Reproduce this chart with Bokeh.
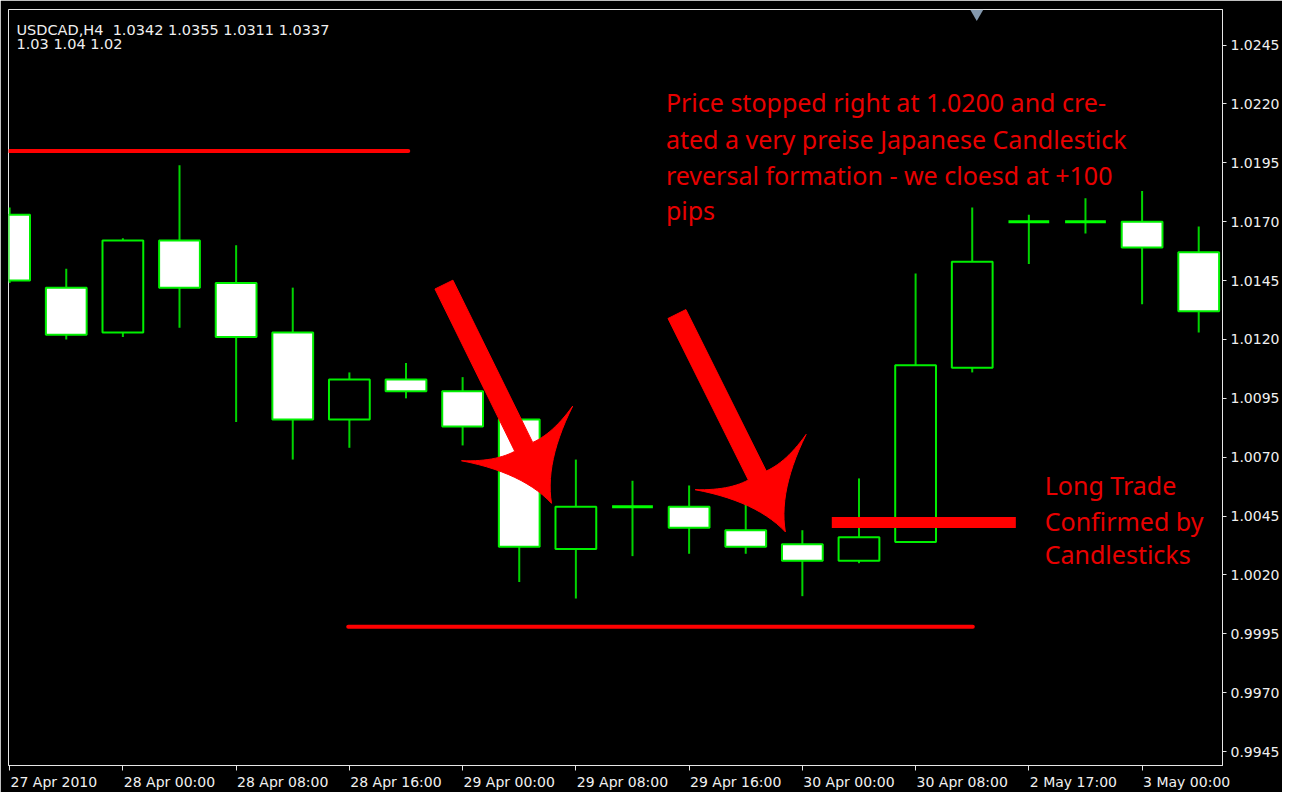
import math
from bokeh.plotting import figure
from bokeh.models import Range1d, LinearAxis, FixedTicker, Label
from bokeh.embed import file_html
from bokeh.resources import INLINE

# ---------------- data ----------------
bars = list(range(22))
opens  = [1.0173, 1.0142, 1.0123, 1.0162, 1.0144, 1.0123, 1.0086, 1.0103, 1.0098, 1.0086, 1.0031,
          1.0049, 1.0049, 1.0039, 1.0033, 1.0026, 1.0034, 1.0108, 1.0170, 1.0170, 1.0170, 1.0157]
highs  = [1.0176, 1.0150, 1.0163, 1.0194, 1.0160, 1.0142, 1.0106, 1.0110, 1.0104, 1.0086, 1.0069,
          1.0060, 1.0058, 1.0055, 1.0039, 1.0061, 1.0148, 1.0176, 1.0173, 1.0180, 1.0183, 1.0168]
lows   = [1.0144, 1.0120, 1.0121, 1.0125, 1.0085, 1.0069, 1.0074, 1.0095, 1.0075, 1.0017, 1.0010,
          1.0028, 1.0029, 1.0029, 1.0011, 1.0025, 1.0034, 1.0106, 1.0152, 1.0165, 1.0135, 1.0123]
closes = [1.0145, 1.0122, 1.0162, 1.0142, 1.0121, 1.0086, 1.0103, 1.0098, 1.0083, 1.0032, 1.0049,
          1.0049, 1.0040, 1.0032, 1.0026, 1.0036, 1.0109, 1.0153, 1.0170, 1.0170, 1.0159, 1.0132]

time_tick_bars = [0, 2, 4, 6, 8, 10, 12, 14, 16, 18, 20]
time_tick_labels = ["27 Apr 2010", "28 Apr 00:00", "28 Apr 08:00", "28 Apr 16:00", "29 Apr 00:00",
                    "29 Apr 08:00", "29 Apr 16:00", "30 Apr 00:00", "30 Apr 08:00", "2 May 17:00",
                    "3 May 00:00"]
price_ticks = [0.9945, 0.9970, 0.9995, 1.0020, 1.0045, 1.0070, 1.0095, 1.0120, 1.0145, 1.0170,
               1.0195, 1.0220, 1.0245]
price_tick_labels = ["0.9945", "0.9970", "0.9995", "1.0020", "1.0045", "1.0070", "1.0095", "1.0120",
                     "1.0145", "1.0170", "1.0195", "1.0220", "1.0245"]

header_lines = ["USDCAD,H4\u00a0\u00a01.0342 1.0355 1.0311 1.0337", "1.03 1.04 1.02"]

level_prices = [1.0200, 0.9998, 1.00423]
level_start = [0.0, 5.98, 14.52]
level_end = [7.04, 17.01, 17.77]

arrow_tail_x = [7.67, 11.785]
arrow_tail_y = [1.01433, 1.01308]
arrow_tip_x = [9.57, 13.70]
arrow_tip_y = [1.00504, 1.00383]

note1_lines = ["Price stopped right at 1.0200 and cre-",
               "ated a very preise Japanese Candlestick",
               "reversal formation - we cloesd at +100",
               "pips"]
note1_x = 11.59
note1_y = [1.02210, 1.02053, 1.01900, 1.01751]

note2_lines = ["Long Trade", "Confirmed by", "Candlesticks"]
note2_x = 18.28
note2_y = [1.00580, 1.00428, 1.00290]

# ---------------- figure ----------------
X0, X1 = -0.02, 21.42
Y0, Y1 = 0.99391, 1.02601
FW, FH = 1214, 756
sx = FW / (X1 - X0)
sy = FH / (Y1 - Y0)

p = figure(frame_width=FW, frame_height=FH,
           x_range=Range1d(X0, X1), y_range=Range1d(Y0, Y1),
           output_backend="svg", toolbar_location=None,
           x_axis_location=None, y_axis_location=None,
           min_border_left=8, min_border_top=9, min_border_right=58, min_border_bottom=24,
           background_fill_color="black", border_fill_color="black")
p.xgrid.visible = False
p.ygrid.visible = False
p.outline_line_color = "#e6e6e6"
p.outline_line_width = 1

MT_FONT = "DejaVu Sans"

yax = LinearAxis(ticker=FixedTicker(ticks=price_ticks),
                 major_label_overrides={t: s for t, s in zip(price_ticks, price_tick_labels)})
yax.axis_line_color = "#e6e6e6"
yax.major_tick_line_color = "#e6e6e6"
yax.major_tick_in = 0
yax.major_tick_out = 4
yax.minor_tick_line_color = None
yax.major_label_standoff = 4
yax.major_label_text_color = "#f0f0f0"
yax.major_label_text_font = MT_FONT
yax.major_label_text_font_size = "14px"
p.add_layout(yax, "right")

# tick marks only
xax = LinearAxis(ticker=FixedTicker(ticks=time_tick_bars))
xax.axis_line_color = "#e6e6e6"
xax.major_tick_line_color = "#e6e6e6"
xax.major_tick_in = 0
xax.major_tick_out = 5
xax.minor_tick_line_color = None
xax.major_label_text_font_size = "0px"
xax.major_label_text_color = None
xax.major_label_standoff = 0
p.add_layout(xax, "below")

# labels that start at their tick (MetaTrader style): centre each one half its width to the right
DV_WIDTH = {"0": 0.636, "1": 0.636, "2": 0.636, "3": 0.636, "4": 0.636, "5": 0.636, "6": 0.636,
            "7": 0.636, "8": 0.636, "9": 0.636, " ": 0.318, ":": 0.337, "A": 0.684, "p": 0.635,
            "r": 0.411, "M": 0.863, "a": 0.613, "y": 0.592}
LABEL_PX = 14
shifted = []
for b, t in zip(time_tick_bars, time_tick_labels):
    w = sum(DV_WIDTH.get(ch, 0.6) for ch in t) * LABEL_PX
    shifted.append(b + (w / 2 + 1) / sx)
xlab = LinearAxis(ticker=FixedTicker(ticks=shifted),
                  major_label_overrides={s: t for s, t in zip(shifted, time_tick_labels)})
xlab.axis_line_color = None
xlab.major_tick_line_color = None
xlab.minor_tick_line_color = None
xlab.major_tick_in = 0
xlab.major_tick_out = 0
xlab.major_label_standoff = 3
xlab.major_label_text_color = "#f0f0f0"
xlab.major_label_text_font = MT_FONT
xlab.major_label_text_font_size = f"{LABEL_PX}px"
p.add_layout(xlab, "below")

for i, line in enumerate(header_lines):
    p.add_layout(Label(x=X0 + 8 / sx, y=Y1 - (20 + 14 * i) / sy, text=line, text_align="left",
                       text_baseline="alphabetic", text_color="#f0f0f0",
                       text_font=MT_FONT, text_font_size="14.5px"))

# chart shift marker
p.scatter(x=[17.08], y=[Y1 - 4 / sy], marker="inverted_triangle", size=13,
          fill_color="#8398ad", line_color=None)

# ---------------- candles ----------------
p.segment(x0=bars, y0=lows, x1=bars, y1=highs, line_color="#00d400", line_width=2)

body_x, body_top, body_bot, body_fill = [], [], [], []
doji_x, doji_y = [], []
for b, o, c in zip(bars, opens, closes):
    if abs(o - c) < 1e-9:
        doji_x.append(b)
        doji_y.append(o)
    else:
        body_x.append(b)
        body_top.append(max(o, c))
        body_bot.append(min(o, c))
        body_fill.append("white" if c < o else "black")

p.vbar(x=body_x, top=body_top, bottom=body_bot, width=0.72, fill_color=body_fill,
       line_color="#00f000", line_width=2)
p.segment(x0=[x - 0.36 for x in doji_x], y0=doji_y, x1=[x + 0.36 for x in doji_x], y1=doji_y,
          line_color="#00ff00", line_width=3)

# ---------------- support / resistance lines ----------------
p.segment(x0=level_start[:2], y0=level_prices[:2], x1=level_end[:2], y1=level_prices[:2],
          line_color="#ff0000", line_width=4, line_cap="round")
p.segment(x0=level_start[2:], y0=level_prices[2:], x1=level_end[2:], y1=level_prices[2:],
          line_color="#ff0000", line_width=11)

# ---------------- arrows ----------------
def quad(p0, c, p2, n=14):
    pts = []
    for k in range(1, n + 1):
        t = k / n
        a, b2, d = (1 - t) ** 2, 2 * (1 - t) * t, t * t
        pts.append((a * p0[0] + b2 * c[0] + d * p2[0], a * p0[1] + b2 * c[1] + d * p2[1]))
    return pts

def arrow_shape(xt, yt, xh, yh):
    ax0, ay0, ax1, ay1 = xt * sx, yt * sy, xh * sx, yh * sy
    dx, dy = ax1 - ax0, ay1 - ay0
    L = math.hypot(dx, dy)
    ux, uy = dx / L, dy / L
    nx, ny = -uy, ux
    shaft, neck, wing_u, wing_n = 10, 63, 78, 62
    local = [(0, 0)]
    local += quad((0, 0), (-40, 12), (-wing_u, wing_n))
    local += quad((-wing_u, wing_n), (-62, 32), (-neck, shaft))
    local += [(-L, shaft), (-L, -shaft), (-neck, -shaft)]
    local += quad((-neck, -shaft), (-62, -32), (-wing_u, -wing_n))
    local += quad((-wing_u, -wing_n), (-40, -12), (0, 0))
    xs = [(ax1 + u * ux + v * nx) / sx for u, v in local]
    ys = [(ay1 + u * uy + v * ny) / sy for u, v in local]
    return xs, ys

for xt, yt, xh, yh in zip(arrow_tail_x, arrow_tail_y, arrow_tip_x, arrow_tip_y):
    xs, ys = arrow_shape(xt, yt, xh, yh)
    p.patch(xs, ys, fill_color="#ff0000", line_color="#ff0000", line_width=1)

# ---------------- notes ----------------
NOTE_FONT = "Noto Sans"
for line, y in zip(note1_lines, note1_y):
    p.add_layout(Label(x=note1_x, y=y, text=line, text_align="left", text_baseline="alphabetic",
                       text_color="#e80000", text_font=NOTE_FONT, text_font_size="25px"))
for line, y in zip(note2_lines, note2_y):
    p.add_layout(Label(x=note2_x, y=y, text=line, text_align="left", text_baseline="alphabetic",
                       text_color="#e80000", text_font=NOTE_FONT, text_font_size="25px"))

open("out.html", "w").write(file_html(p, INLINE))
